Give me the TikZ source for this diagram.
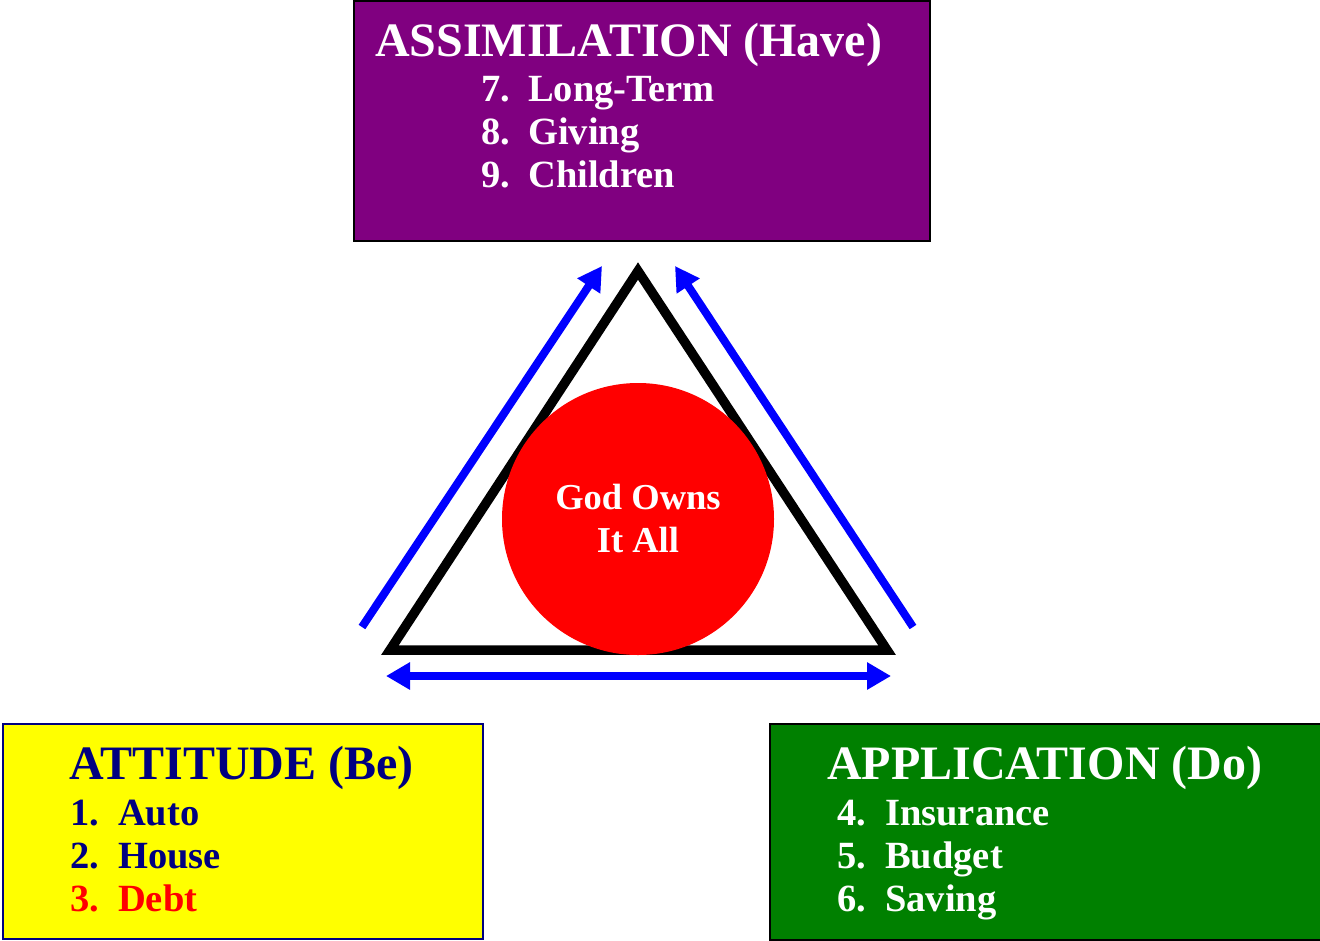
\documentclass[tikz,border=0pt]{standalone}
\usepackage{fontspec}
\setmainfont{Liberation Serif}
\usetikzlibrary{arrows.meta}
\usetikzlibrary{positioning}
\definecolor{navy}{RGB}{0,0,128}
\definecolor{havepurple}{RGB}{128,0,128}
\definecolor{dogreen}{RGB}{0,128,0}
\definecolor{beyellow}{RGB}{255,255,0}
\definecolor{pureblue}{RGB}{0,0,255}
\definecolor{purered}{RGB}{255,0,0}

\begin{document}
\begin{tikzpicture}[x=1pt,y=-1pt,
  box/.style={draw,line width=2pt,anchor=north west,inner sep=0pt},
  head/.style={anchor=base west,inner sep=0pt,font=\fontsize{48}{48}\selectfont\bfseries},
  item/.style={anchor=base west,inner sep=0pt,font=\fontsize{38.5}{38.5}\selectfont\bfseries},
  tip/.tip={Triangle[length=24pt,width=26pt]},
  arr/.style={draw=pureblue,fill=pureblue,line width=8pt,-tip}]
\useasboundingbox (0,0) rectangle (1320,940);
% the three boxes
\node[box,fill=havepurple,minimum width=576pt,minimum height=240pt] (H) at (353,0) {};
\node[box,draw=navy,fill=beyellow,minimum width=480pt,minimum height=215pt] (B) at (2,723) {};
\node[box,fill=dogreen,minimum width=551pt,minimum height=216pt] (D) at (769,723) {};
\node[head,text=white] (Ht) at (375,56) {ASSIMILATION (Have)};
\node[head,text=navy] (Bt) at (69,779) {ATTITUDE (Be)};
\node[head,text=white] (Dt) at (827,779) {APPLICATION (Do)};

\foreach \n/\t [count=\i] in {7/Long-Term,8/Giving,9/Children} {
  \node[item,text=white] (Hn\i) at (481,58+43*\i) {\n.};
  \node[item,text=white] (H\i) at (528,58+43*\i) {\t};
  }
\foreach \n/\t/\c [count=\i] in {1/Auto/navy,2/House/navy,3/Debt/purered} {
  \node[item,text=\c] (Bn\i) at (70,782+43*\i) {\n.};
  \node[item,text=\c] (B\i) at (118,782+43*\i) {\t};
  }
\foreach \n/\t [count=\i] in {4/Insurance,5/Budget,6/Saving} {
  \node[item,text=white] (Dn\i) at (837,782+43*\i) {\n.};
  \node[item,text=white] (D\i) at (885,782+43*\i) {\t};
  }

% triangle and circle
\coordinate (T) at (638,271);
\coordinate (L) at (390,650);
\coordinate (R) at (887,650);
\draw[line width=9.5pt,miter limit=4] (T) -- (L) -- (R) -- cycle;
\node[circle,fill=purered,minimum size=272pt,inner sep=0pt,align=center,text=white,
  font=\fontsize{36.5}{43}\selectfont\bfseries] (G) at (638,519) {God Owns\\It All};

% blue arrows
\coordinate (a0) at (362,627);
\coordinate (a1) at (602,266);
\coordinate (b0) at (913,627);
\coordinate (b1) at (675,266);
\coordinate (c0) at (386,676);
\coordinate (c1) at (891,676);
\draw[arr] (a0) -- (a1);
\draw[arr] (b0) -- (b1);
\draw[arr,tip-tip] (c0) -- (c1);
\end{tikzpicture}
\end{document}
